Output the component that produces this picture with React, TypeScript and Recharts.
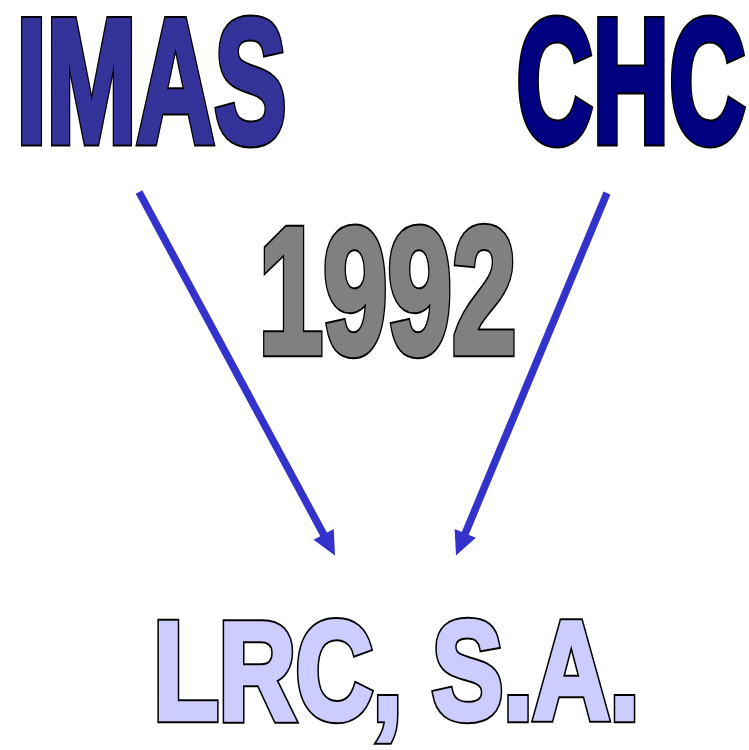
import React from "react";
import { ScatterChart, Scatter, XAxis, YAxis, ReferenceLine } from "recharts";

// Diagram nodes (x = centre of the word, y = baseline, in chart units = pixels)
const labels = ["IMAS", "CHC", "1992", "LRC, S.A."];
const labelX = [151.5, 631, 387.5, 396.5];
const labelY = [141.5, 141.5, 352.5, 718.5];
const labelFill = ["#333399", "#000080", "#808080", "#CCCCFF"];

// Arrows: start -> end (tip)
const arrowFrom = [
  { x: 139, y: 192 },
  { x: 607, y: 193 },
];
const arrowTo = [
  { x: 335, y: 555.5 },
  { x: 456, y: 555.5 },
];

const fontSizes = [177, 177, 180, 139];
const textLengths = [270, 229, 258, 486];
const thicken = [5, 5, 4.5, 4.5];

const nodes = labels.map((name, i) => ({
  name,
  x: labelX[i],
  y: labelY[i],
  fill: labelFill[i],
  fontSize: fontSizes[i],
  textLength: textLengths[i],
  thick: thicken[i],
}));

const FONT = "'Liberation Sans', Arial, Helvetica, sans-serif";

const WordShape = (props: any) => {
  const { cx, cy, payload } = props;
  const common = {
    x: cx,
    y: cy,
    textAnchor: "middle" as const,
    fontFamily: FONT,
    fontWeight: "bold",
    fontSize: payload.fontSize,
    textLength: payload.textLength,
    lengthAdjust: "spacingAndGlyphs",
    strokeLinejoin: "miter" as const,
    strokeMiterlimit: 3,
  };
  return (
    <g>
      <text {...common} fill="#000000" stroke="#000000" strokeWidth={payload.thick + 4}>
        {payload.name}
      </text>
      <text {...common} fill={payload.fill} stroke={payload.fill} strokeWidth={payload.thick}>
        {payload.name}
      </text>
    </g>
  );
};

const ArrowShape = (props: any) => {
  const { x1, y1, x2, y2 } = props;
  if ([x1, y1, x2, y2].some((v) => typeof v !== "number" || isNaN(v))) return null;
  const dx = x2 - x1;
  const dy = y2 - y1;
  const len = Math.sqrt(dx * dx + dy * dy);
  const ux = dx / len;
  const uy = dy / len;
  const headLen = 24;
  const headHalf = 11.5;
  const bx = x2 - ux * headLen;
  const by = y2 - uy * headLen;
  const nx = -uy;
  const ny = ux;
  const pts = `${x2},${y2} ${bx + nx * headHalf},${by + ny * headHalf} ${bx - nx * headHalf},${by - ny * headHalf}`;
  return (
    <g>
      <line x1={x1} y1={y1} x2={bx + ux * 2} y2={by + uy * 2} stroke="#3333CC" strokeWidth={7.5} />
      <polygon points={pts} fill="#3333CC" />
    </g>
  );
};

export default function App() {
  return (
    <div style={{ position: "absolute", left: 0, top: 0, background: "#ffffff" }}>
      <ScatterChart width={749} height={750} margin={{ top: 0, right: 0, bottom: 0, left: 0 }}>
        <XAxis type="number" dataKey="x" domain={[0, 749]} hide />
        <YAxis type="number" dataKey="y" domain={[0, 750]} reversed hide />
        {arrowFrom.map((a, i) => (
          <ReferenceLine
            key={i}
            segment={[a, arrowTo[i]]}
            ifOverflow="visible"
            shape={ArrowShape}
          />
        ))}
        <Scatter data={nodes} shape={WordShape} isAnimationActive={false} />
      </ScatterChart>
    </div>
  );
}
